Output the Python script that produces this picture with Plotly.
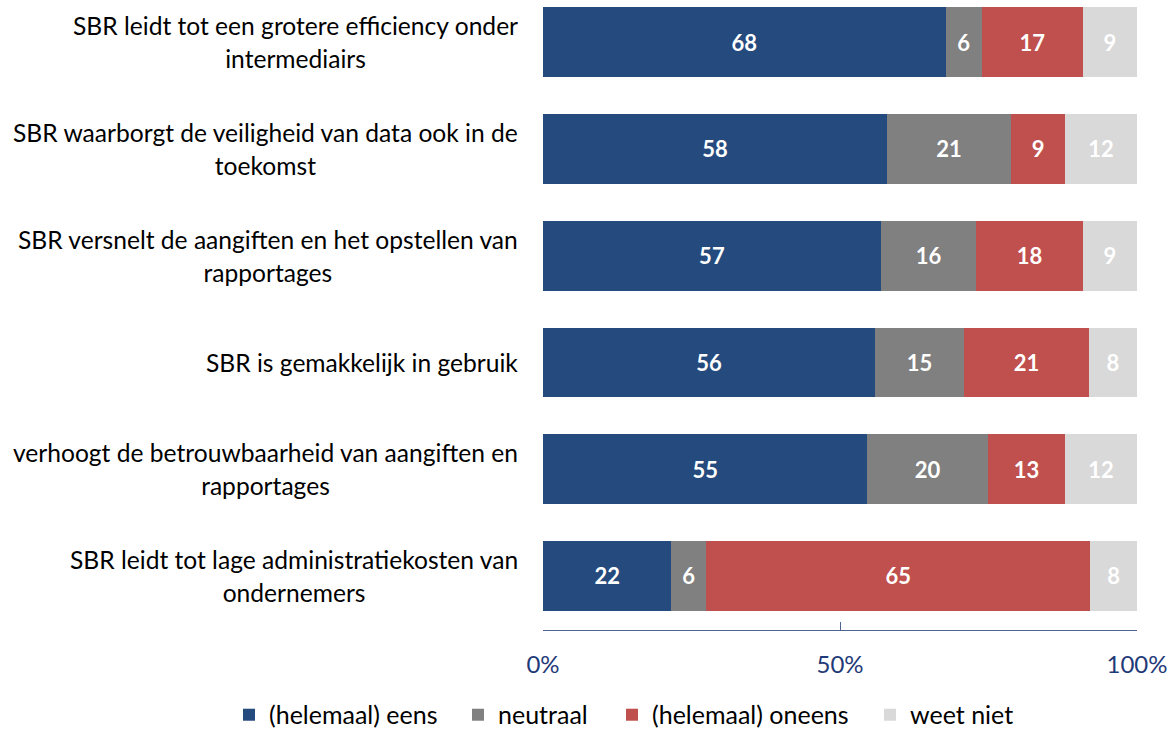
import plotly.graph_objects as go

# statements, top to bottom as in the chart
statements = [
    "SBR leidt tot een grotere efficiency onder<br>intermediairs",
    "SBR waarborgt de veiligheid van data ook in de<br>toekomst",
    "SBR versnelt de aangiften en het opstellen van<br>rapportages",
    "SBR is gemakkelijk in gebruik",
    "verhoogt de betrouwbaarheid van aangiften en<br>rapportages",
    "SBR leidt tot lage administratiekosten van<br>ondernemers",
]
keys = [f"s{i}" for i in range(len(statements))]

# percentages (unrounded estimates, shown rounded)
eens = [67.8, 57.9, 56.9, 55.9, 54.6, 21.6]
neutraal = [6.1, 20.9, 16.0, 15.0, 20.3, 5.9]
oneens = [17.0, 9.1, 18.0, 21.0, 13.0, 64.6]
weet_niet = [9.1, 12.1, 9.1, 8.1, 12.1, 7.9]

series = [
    ("(helemaal) eens", eens, "#244A7E"),
    ("neutraal", neutraal, "#808080"),
    ("(helemaal) oneens", oneens, "#C0504D"),
    ("weet niet", weet_niet, "#D9D9D9"),
]

x_ticks = [0, 50, 100]
x_tick_text = ["0%", "50%", "100%"]

FONT = "Lato, 'Open Sans', sans-serif"
PLOT_L, PLOT_W = 543, 594
# left edge (px) of each legend entry, so the entries sit where the reference has them
legend_px = [229, 458, 612, 870]

fig = go.Figure()
for i, (name, vals, color) in enumerate(series):
    fig.add_trace(go.Bar(
        y=keys,
        x=vals,
        name=name,
        orientation="h",
        marker=dict(color=color, line=dict(width=0)),
        text=vals,
        texttemplate="%{x:.0f}",
        textposition="inside",
        insidetextanchor="middle",
        textangle=0,
        constraintext="none",
        textfont=dict(family=FONT, size=22, color="white", weight="bold"),
        legend="legend" if i == 0 else f"legend{i + 1}",
    ))

# statement labels as centred two-line blocks, right-aligned against the bars
for key, label in zip(keys, statements):
    lines = label.split("<br>")
    text = "<br>".join(f"<span style='font-size:24.6px'>{ln}</span>" for ln in lines)
    fig.add_annotation(
        x=0, xref="paper", y=key, yref="y",
        text=text, showarrow=False,
        xanchor="right", yanchor="middle", align="center",
        xshift=-23,
        font=dict(family=FONT, size=25.5, color="#000000"),
    )

legends = {}
for i, px in enumerate(legend_px):
    legends["legend" if i == 0 else f"legend{i + 1}"] = dict(
        orientation="h",
        x=(px - PLOT_L) / PLOT_W, xref="paper", xanchor="left",
        y=-0.1364, yref="paper", yanchor="middle",
        font=dict(family=FONT, size=25, color="#000000"),
        bgcolor="rgba(0,0,0,0)",
    )

fig.update_layout(
    width=1168,
    height=732,
    barmode="stack",
    bargap=0.345,
    paper_bgcolor="white",
    plot_bgcolor="white",
    margin=dict(l=PLOT_L, r=31, t=7, b=102, autoexpand=False),
    font=dict(family=FONT, size=20, color="#000000"),
    showlegend=True,
    **legends,
)
fig.update_xaxes(
    range=[0, 100],
    tickvals=x_ticks,
    ticktext=x_tick_text,
    ticks="inside",
    ticklen=8,
    tickcolor="#4F6390",
    showline=True,
    linecolor="#4F6390",
    linewidth=1,
    showgrid=False,
    zeroline=False,
    tickfont=dict(family=FONT, size=24, color="#1F3A78"),
    ticklabelstandoff=13,
)
fig.update_yaxes(
    categoryorder="array",
    categoryarray=keys,
    range=[5.506, -0.33],
    showticklabels=False,
    showgrid=False,
    zeroline=False,
    showline=False,
)

# drop the browser's default 8px body margin so the figure fills the window
fig.write_html(
    "out.html",
    config={"displayModeBar": False},
    post_script="document.body.style.margin='0px';",
)
